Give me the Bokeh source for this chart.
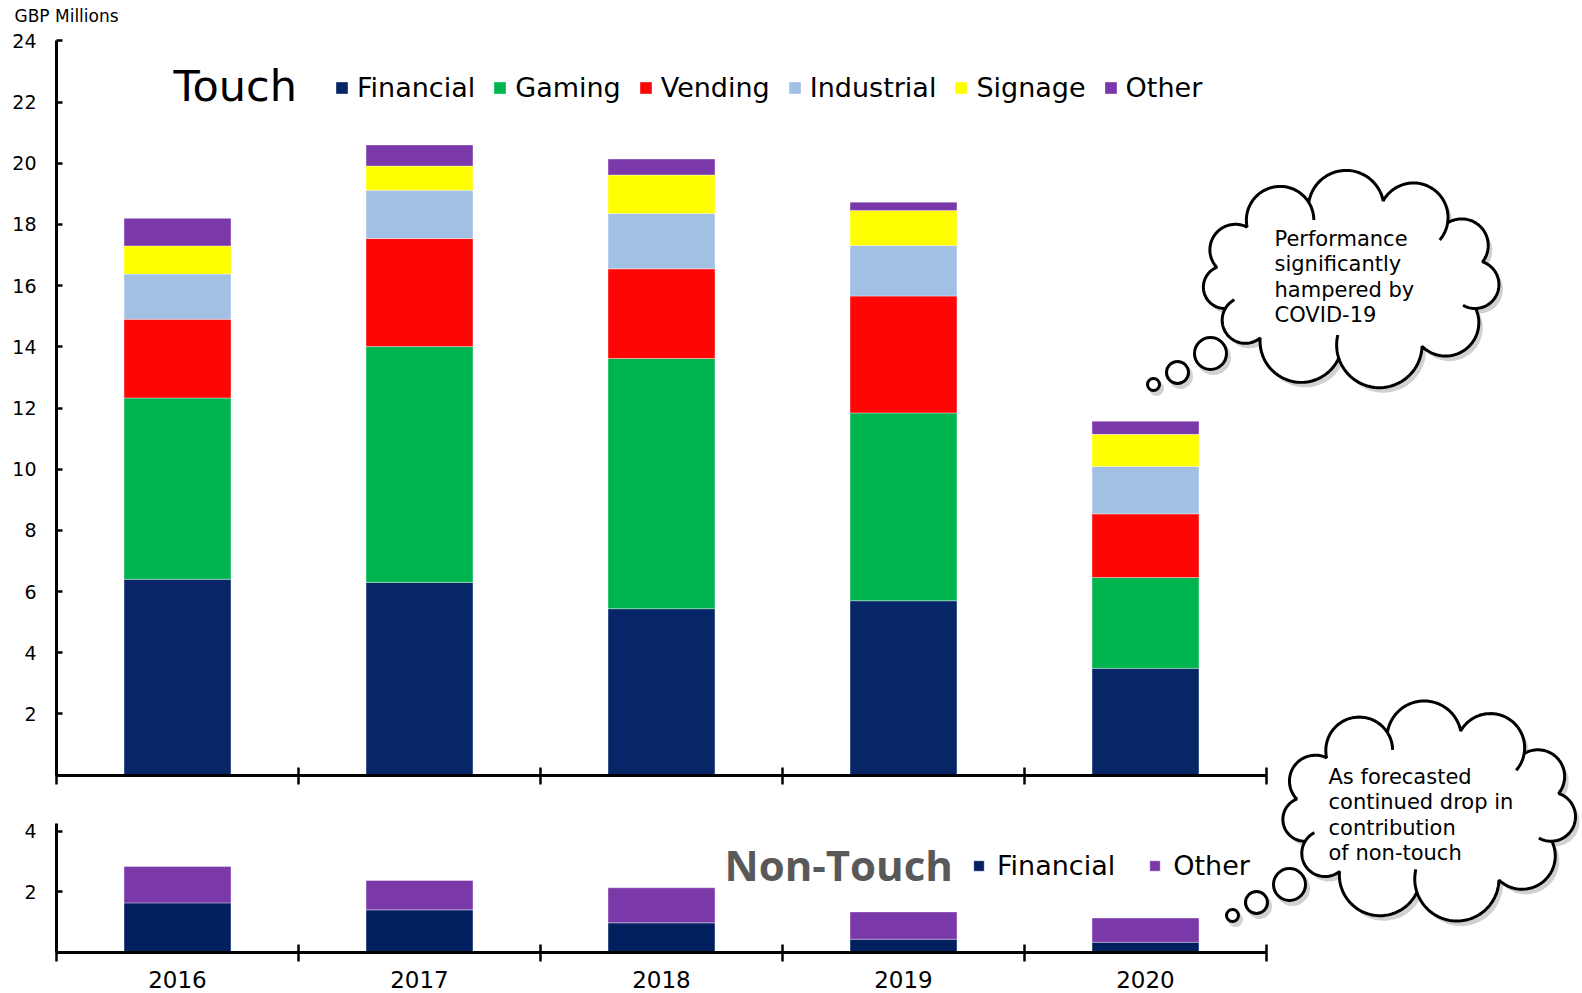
import numpy as np
from bokeh.plotting import figure
from bokeh.models import (Range1d, LinearAxis, FixedTicker, Legend, LegendItem,
                          Label, ColumnDataSource)
from bokeh.embed import file_html
from bokeh.resources import INLINE

W, H = 1582, 993
FONT = "DejaVu Sans"

# ---------------- data ----------------
years = ["2016", "2017", "2018", "2019", "2020"]
touch_segments = ["Financial", "Gaming", "Vending", "Industrial", "Signage", "Other"]
touch_financial = [6.40, 6.30, 5.44, 5.70, 3.49]
touch_gaming = [5.93, 7.71, 8.18, 6.14, 2.97]
touch_vending = [2.57, 3.53, 2.93, 3.82, 2.08]
touch_industrial = [1.48, 1.58, 1.81, 1.65, 1.55]
touch_signage = [0.92, 0.79, 1.26, 1.15, 1.05]
touch_other = [0.90, 0.69, 0.52, 0.27, 0.43]
nontouch_segments = ["Financial", "Other"]
nontouch_financial = [1.63, 1.40, 0.97, 0.43, 0.33]
nontouch_other = [1.20, 0.97, 1.16, 0.90, 0.80]
touch_ticks = [2, 4, 6, 8, 10, 12, 14, 16, 18, 20, 22, 24]
nontouch_ticks = [2, 4]

touch_colors = ["#072668", "#00B550", "#FF0606", "#A1C0E4", "#FFFF00", "#7A38A8"]
nontouch_colors = ["#022060", "#7A38A8"]

note_top = ["Performance", "significantly", "hampered by", "COVID-19"]
note_bottom = ["As forecasted", "continued drop in", "contribution", "of non-touch"]

# ---------------- layout (pixel geometry) ----------------
X0, UX = 56.0, 242.0          # x=0 at 56 px, one category = 242 px
TOP0, UY = 774.6, 30.59       # top panel zero line, px per unit
BOT0, UYB = 951.7, 30.25      # bottom panel zero line, px per unit


def px2x(px):
    return (px - X0) / UX


def py2y(py):
    return (TOP0 - py) / UY


p = figure(width=W, height=H, output_backend="svg", toolbar_location=None,
           x_axis_location=None, y_axis_location=None,
           x_range=Range1d(-X0 / UX, (W - X0) / UX),
           y_range=Range1d(-(H - TOP0) / UY, TOP0 / UY),
           min_border=0, outline_line_color=None)
p.extra_y_ranges = {"bot": Range1d(-(H - BOT0) / UYB, BOT0 / UYB)}
p.xgrid.grid_line_color = None
p.ygrid.grid_line_color = None
p.background_fill_color = "white"
p.border_fill_color = "white"

xc = [i + 0.5 for i in range(len(years))]
src_t = ColumnDataSource(dict(x=xc, Financial=touch_financial, Gaming=touch_gaming,
                              Vending=touch_vending, Industrial=touch_industrial,
                              Signage=touch_signage, Other=touch_other))
src_n = ColumnDataSource(dict(x=xc, Financial=nontouch_financial, Other=nontouch_other))

BW = 0.442
rt = p.vbar_stack(touch_segments, x="x", width=BW, source=src_t,
                  fill_color=touch_colors, line_color="white", line_alpha=0.45, line_width=0.8)
rn = p.vbar_stack(nontouch_segments, x="x", width=BW, source=src_n, y_range_name="bot",
                  fill_color=nontouch_colors, line_color="white", line_alpha=0.45, line_width=0.8)

# ---------------- axes ----------------
def style_y(ax):
    ax.axis_line_width = 3
    ax.axis_line_color = "black"
    ax.major_tick_in = 6
    ax.major_tick_out = 0
    ax.major_tick_line_width = 2.5
    ax.minor_tick_line_color = None
    ax.major_label_standoff = 20
    ax.major_label_text_font = FONT
    ax.major_label_text_font_size = "19px"
    ax.major_label_text_color = "black"


ya = LinearAxis(bounds=(0, 24), fixed_location=0, ticker=FixedTicker(ticks=touch_ticks))
style_y(ya)
p.add_layout(ya, "left")

yb = LinearAxis(y_range_name="bot", bounds=(0, 4.25), fixed_location=0,
                ticker=FixedTicker(ticks=nontouch_ticks))
style_y(yb)
p.add_layout(yb, "left")

bounds_ticks = [0, 1, 2, 3, 4, 5]


def style_x(ax):
    ax.axis_line_width = 3
    ax.axis_line_color = "black"
    ax.major_tick_line_color = None
    ax.major_tick_in = 0
    ax.major_tick_out = 0
    ax.minor_tick_in = 8
    ax.minor_tick_out = 9
    ax.minor_tick_line_width = 2.5
    ax.minor_tick_line_color = "black"


xa = LinearAxis(bounds=(0, 5), fixed_location=0,
                ticker=FixedTicker(ticks=[], minor_ticks=bounds_ticks))
style_x(xa)
xa.major_label_text_font_size = "0px"
p.add_layout(xa, "below")

xb = LinearAxis(y_range_name="bot", bounds=(0, 5), fixed_location=0,
                ticker=FixedTicker(ticks=xc, minor_ticks=bounds_ticks),
                major_label_overrides={x: y for x, y in zip(xc, years)})
style_x(xb)
xb.major_label_standoff = 10
xb.major_label_text_font = FONT
xb.major_label_text_font_size = "23px"
xb.major_label_text_color = "black"
p.add_layout(xb, "below")

# ---------------- legends and titles ----------------
leg_t = Legend(items=[LegendItem(label=s, renderers=[r]) for s, r in zip(touch_segments, rt)],
               orientation="horizontal", location=(334, 890),
               glyph_width=15, glyph_height=15, label_standoff=8, spacing=17,
               padding=0, margin=0, border_line_color=None, background_fill_alpha=0,
               label_text_font=FONT, label_text_font_size="27px", label_text_color="black")
p.add_layout(leg_t)

leg_n = Legend(items=[LegendItem(label=s, renderers=[r]) for s, r in zip(nontouch_segments, rn)],
               orientation="horizontal", location=(972, 112),
               glyph_width=13, glyph_height=13, label_standoff=12, spacing=33,
               padding=0, margin=0, border_line_color=None, background_fill_alpha=0,
               label_text_font=FONT, label_text_font_size="27px", label_text_color="black")
p.add_layout(leg_n)

p.add_layout(Label(x=px2x(173), y=py2y(85.3), text="Touch", text_font=FONT,
                   text_font_size="43px", text_color="black", text_baseline="middle"))
p.add_layout(Label(x=px2x(724), y=py2y(864), text="Non-Touch", text_font="Open Sans",
                   text_font_size="42px", text_font_style="bold", text_color="#595959",
                   text_baseline="middle"))
p.add_layout(Label(x=px2x(14), y=py2y(15), text="GBP Millions", text_font=FONT,
                   text_font_size="17px", text_color="black", text_baseline="middle"))


# ---------------- thought clouds ----------------
def cloud(cx, cy, rx, ry, angs_deg, bulge, inner_idx):
    angs = np.radians(angs_deg)
    pts = [(cx + rx * np.cos(a), cy + ry * np.sin(a)) for a in angs]
    n = len(pts)
    ox_all, oy_all, inner = [], [], []
    for i in range(n):
        x1, y1 = pts[i]
        x2, y2 = pts[(i + 1) % n]
        mx, my = (x1 + x2) / 2, (y1 + y2) / 2
        dx, dy = x2 - x1, y2 - y1
        c = np.hypot(dx, dy)
        nx, ny = dy / c, -dx / c
        if nx * (mx - cx) + ny * (my - cy) < 0:
            nx, ny = -nx, -ny
        h = bulge * c
        R = (c * c / 4 + h * h) / (2 * h)
        ox, oy = mx - nx * (R - h), my - ny * (R - h)
        a1 = np.arctan2(y1 - oy, x1 - ox)
        am = np.arctan2(ny, nx)
        d1 = (am - a1 + np.pi) % (2 * np.pi) - np.pi
        t = a1 + np.linspace(0, 2 * d1, 40)
        ox_all.extend(ox + R * np.cos(t))
        oy_all.extend(oy + R * np.sin(t))
        if i in inner_idx:
            te = a1 + 2 * d1 + np.sign(d1) * np.linspace(0, 0.55, 12)
            inner.append((ox + R * np.cos(te), oy + R * np.sin(te)))
    return np.array(ox_all), np.array(oy_all), inner


def draw_cloud(cx, cy, rx, ry, angs, bulge, inner_idx, bubbles, lines, tx, ty0, dy):
    ox, oy, inner = cloud(cx, cy, rx, ry, angs, bulge, inner_idx)
    # shadow
    p.patch(px2x(ox + 4), py2y(oy + 5), fill_color="#000000", fill_alpha=0.18, line_color=None)
    for (bx, by, br) in bubbles:
        p.scatter(px2x(bx + 3), py2y(by + 4), size=2 * br + 3, marker="circle",
                  fill_color="#000000", fill_alpha=0.18, line_color=None)
    p.patch(px2x(ox), py2y(oy), fill_color="white", line_color="black", line_width=3)
    for ix, iy in inner:
        p.line(px2x(ix), py2y(iy), line_color="black", line_width=3)
    for (bx, by, br) in bubbles:
        p.scatter(px2x(bx), py2y(by), size=2 * br, marker="circle",
                  fill_color="white", line_color="black", line_width=3)
    for k, s in enumerate(lines):
        p.add_layout(Label(x=px2x(tx), y=py2y(ty0 + k * dy), text=s, text_font=FONT,
                           text_font_size="21px", text_color="black",
                           text_baseline="middle"))


cloud_angles = [-172, -140, -108, -76, -44, -12, 22, 58, 95, 132, 158]

draw_cloud(1350, 278, 135, 80, cloud_angles, 0.42, [1, 3, 5, 7, 9],
           [(1210, 353, 16), (1177, 372, 11), (1153, 384, 6)],
           note_top, 1274, 238, 25.6)
draw_cloud(1428, 810, 133, 82, cloud_angles, 0.42, [1, 3, 5, 7, 9],
           [(1289, 884, 16), (1256, 902, 11), (1232, 915, 6)],
           note_bottom, 1328, 776, 25.5)

open("out.html", "w").write(file_html(p, INLINE))
